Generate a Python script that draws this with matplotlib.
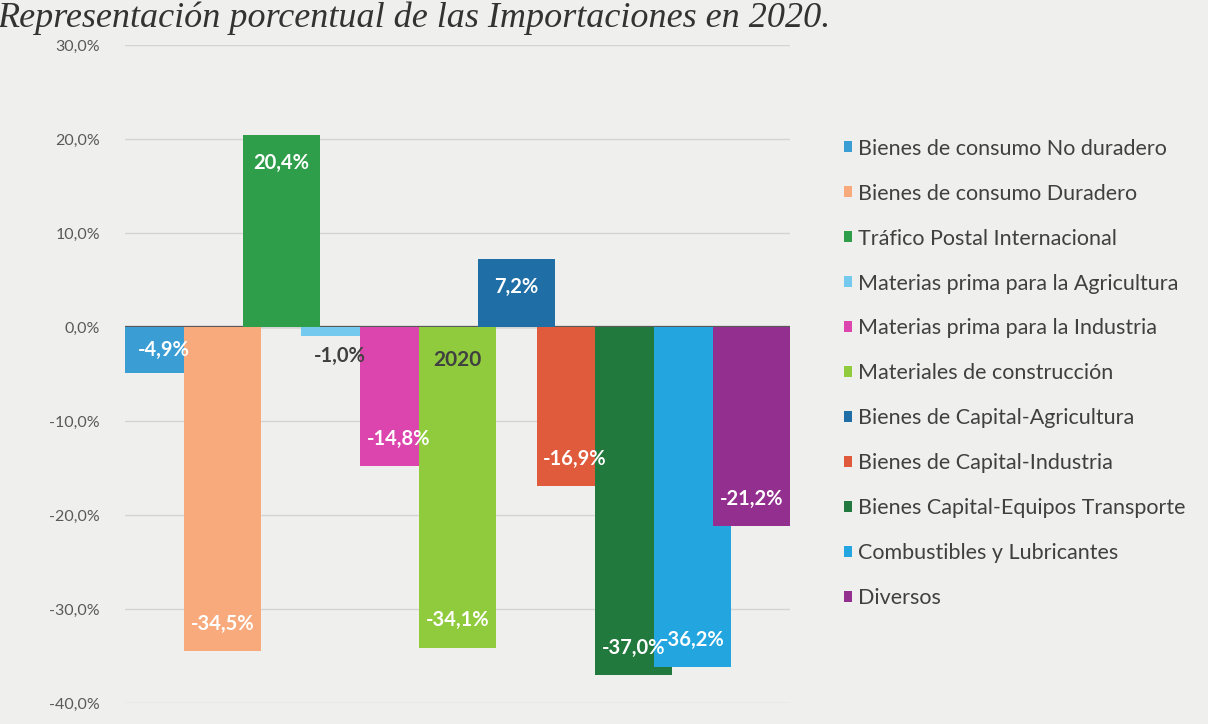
import matplotlib
matplotlib.use("Agg")
import matplotlib.pyplot as plt
from matplotlib.patches import Patch
import numpy as np

# ---- data ----
category = "2020"
series = [
    "Bienes de consumo No duradero",
    "Bienes de consumo Duradero",
    "Tráfico Postal Internacional",
    "Materias prima para la Agricultura",
    "Materias prima para la Industria",
    "Materiales de construcción",
    "Bienes de Capital-Agricultura",
    "Bienes de Capital-Industria",
    "Bienes Capital-Equipos Transporte",
    "Combustibles y Lubricantes",
    "Diversos",
]
values = [-4.9, -34.5, 20.4, -1.0, -14.8, -34.1, 7.2, -16.9, -37.0, -36.2, -21.2]
colors = ["#3a9dd4", "#f8aa7c", "#2f9e4a", "#74c9ee", "#dc44ae", "#8fcb3d",
          "#1f6ea6", "#e05a3c", "#22793d", "#23a5e0", "#932f8e"]
yticks = [30, 20, 10, 0, -10, -20, -30, -40]
title = "Representación porcentual de las Importaciones en 2020."

FONT = "Lato"
plt.rcParams["font.family"] = [FONT, "DejaVu Sans"]

fig = plt.figure(figsize=(12.08, 7.24), dpi=100, facecolor="#efefed")
ax = fig.add_axes([125/1208, 1-703/724, (790-125)/1208, (703-45)/724])
ax.set_facecolor("#efefed")

width = 1.31
x = np.arange(len(values)) + width/2
for i, (xi, v, c) in enumerate(zip(x, values, colors)):
    ax.bar(xi, v, width=width, color=c, zorder=2 + i)

# data labels
for xi, v in zip(x, values):
    txt = f"{v:.1f}%".replace(".", ",")
    if abs(v) < 2:
        ax.text(xi, v - 2.1, txt, ha="center", va="center", color="#404040",
                fontsize=14.5, fontweight="bold", zorder=30)
    else:
        off = min(2.9, abs(v) / 2)
        ax.text(xi, v - np.sign(v) * off, txt, ha="center", va="center",
                color="white", fontsize=14.5, fontweight="bold", zorder=30)

ax.set_xlim(0, len(values) - 1 + width)
ax.set_ylim(-40, 30)
ax.set_yticks(yticks)
ax.set_yticklabels([f"{t:.1f}%".replace(".", ",") for t in yticks],
                   color="#595959", fontsize=11.5)
ax.tick_params(axis="y", length=0, pad=18)
ax.set_xticks([])
for s in ax.spines.values():
    s.set_visible(False)
ax.grid(axis="y", color="#d4d4d4", lw=1, zorder=0)
ax.axhline(0, color="#3c3c3c", lw=1.6, zorder=1)

# category label
ax.text(np.mean(ax.get_xlim()), -3.5, category, ha="center", va="center",
        color="#404040", fontsize=15, fontweight="bold", zorder=31)

# legend
handles = [Patch(facecolor=c, edgecolor="none") for c in colors]
leg = fig.legend(handles, series, loc="upper left",
                 bbox_to_anchor=(835/1208, 1-130/724), frameon=False,
                 fontsize=15.5, labelcolor="#404040", handlelength=0.4,
                 handleheight=0.4, handletextpad=0.25, labelspacing=1.16,
                 borderaxespad=0)

# title
fig.text(-0.002, 1-27/724, title, ha="left", va="baseline",
         fontsize=26, fontstyle="italic", family="Liberation Serif",
         color="#333333")

fig.savefig("out.png", dpi=100, facecolor=fig.get_facecolor())
